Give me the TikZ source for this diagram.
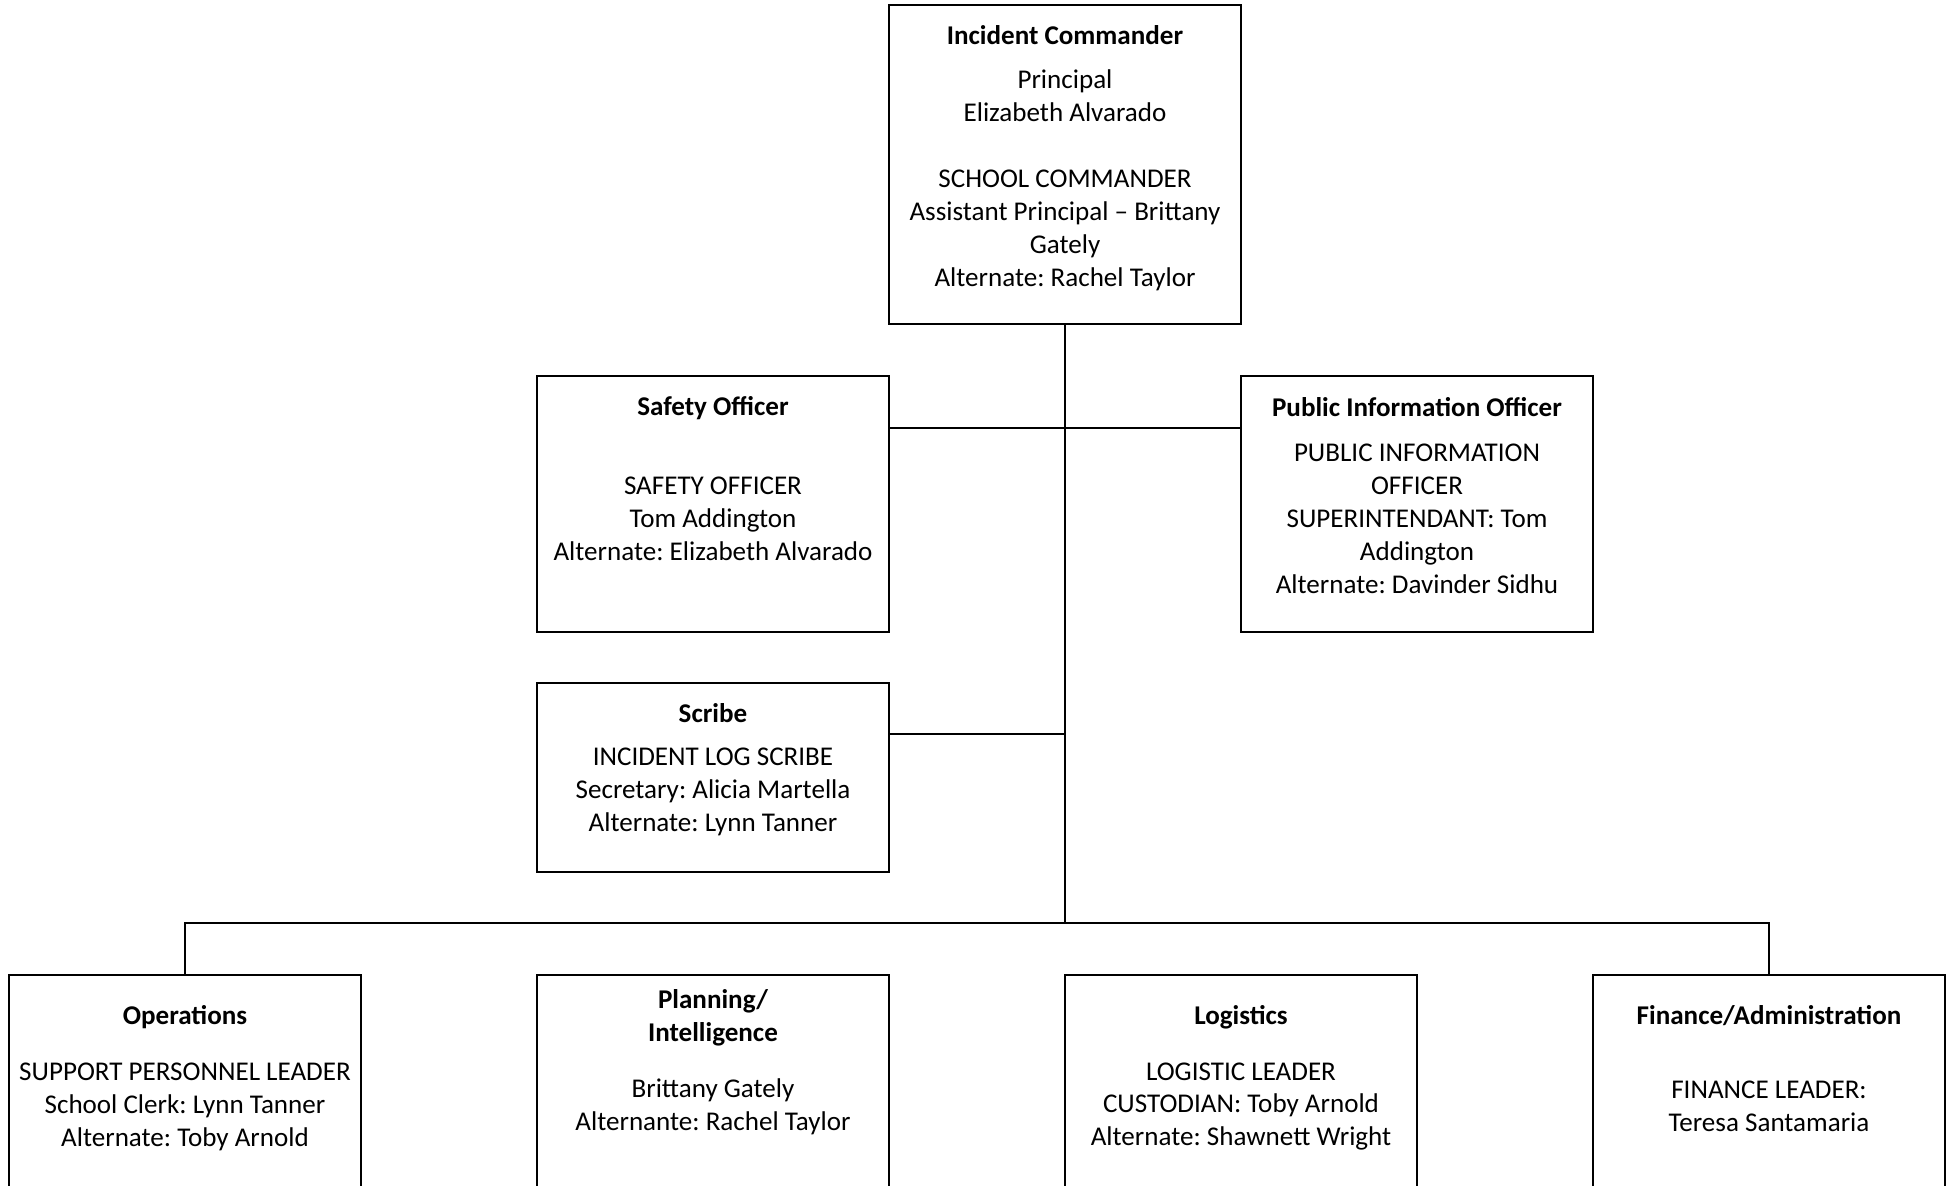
\documentclass[tikz,border=0pt]{standalone}
\usepackage{fontspec}
\setmainfont{Carlito}
\frenchspacing

\tikzset{
  orgbox/.style={draw, line width=0.6pt, minimum width=143pt, inner sep=0pt},
  headtext/.style={font=\fontsize{11}{13.4}\selectfont\bfseries, align=center, inner sep=0pt},
  bodytext/.style={font=\fontsize{11}{13.4}\selectfont, align=center, inner sep=0pt},
  link/.style={line width=0.6pt}
}

\begin{document}
\begin{tikzpicture}[x=0.4064pt, y=-0.4064pt]
\useasboundingbox (0,0) rectangle (1949,1185);
\clip (0,0) rectangle (1949,1185);

% top
\node[orgbox, minimum height=129.6pt] (ic) at (1065,164.5) {};
\node[headtext] (icHead) at (1065,35.5) {Incident Commander};
\node[bodytext] (icBody) at (1065,180) {Principal\\Elizabeth Alvarado\\[13.4pt]SCHOOL COMMANDER\\Assistant Principal – Brittany\\Gately\\Alternate: Rachel Taylor};

% staff
\node[orgbox, minimum height=104pt] (safety) at (713,504) {};
\node[headtext] (safetyHead) at (713,408) {Safety Officer};
\node[bodytext] (safetyBody) at (713,518.5) {SAFETY OFFICER\\Tom Addington\\Alternate: Elizabeth Alvarado};

\node[orgbox, minimum height=104pt] (pio) at (1417,504) {};
\node[headtext] (pioHead) at (1417,407) {Public Information Officer};
\node[bodytext] (pioBody) at (1417,518.5) {PUBLIC INFORMATION\\OFFICER\\SUPERINTENDANT: Tom\\Addington\\Alternate: Davinder Sidhu};

\node[orgbox, minimum height=76.8pt] (scribe) at (713,777.5) {};
\node[headtext] (scribeHead) at (713,713) {Scribe};
\node[bodytext] (scribeBody) at (713,792) {INCIDENT LOG SCRIBE\\Secretary: Alicia Martella\\Alternate: Lynn Tanner};

% sections
\node[orgbox, minimum height=121.9pt] (ops) at (185,1125) {};
\node[headtext] (opsHead) at (185,1017) {Operations};
\node[bodytext] (opsBody) at (185,1106.5) {SUPPORT PERSONNEL LEADER\\School Clerk: Lynn Tanner\\Alternate: Toby Arnold};

\node[orgbox, minimum height=121.9pt] (plan) at (713,1125) {};
\node[headtext] (planHead) at (713,1017.5) {Planning/\\Intelligence};
\node[bodytext] (planBody) at (713,1106.5) {Brittany Gately\\Alternante: Rachel Taylor};

\node[orgbox, minimum height=121.9pt] (log) at (1241,1125) {};
\node[headtext] (logHead) at (1241,1017) {Logistics};
\node[bodytext] (logBody) at (1241,1106.5) {LOGISTIC LEADER\\CUSTODIAN: Toby Arnold\\Alternate: Shawnett Wright};

\node[orgbox, minimum height=121.9pt] (fin) at (1769,1125) {};
\node[headtext] (finHead) at (1769,1016) {Finance/Administration};
\node[bodytext] (finBody) at (1769,1106.5) {FINANCE LEADER:\\Teresa Santamaria};

% connectors
\coordinate (tapStaff) at (1065,428);
\coordinate (tapScribe) at (1065,734);
\coordinate (bus) at (1065,923);

\draw[link] (ic.south) -- (bus);
\draw[link] (safety.east |- tapStaff) -- (pio.west |- tapStaff);
\draw[link] (scribe.east |- tapScribe) -- (tapScribe);
\draw[link] (ops.north) |- (bus) -| (fin.north);

\end{tikzpicture}
\end{document}
